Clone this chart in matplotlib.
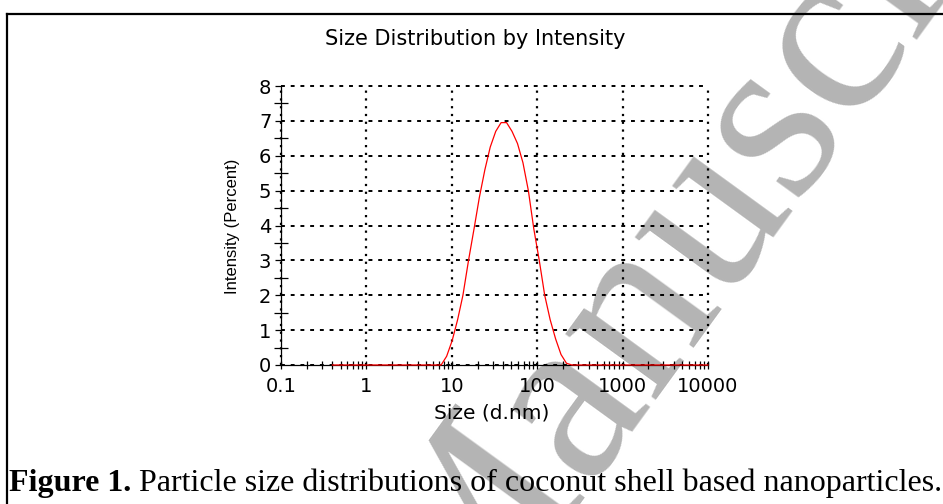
import matplotlib
matplotlib.use('Agg')
import matplotlib.pyplot as plt
from matplotlib.lines import Line2D
from matplotlib.ticker import LogLocator, FixedLocator, NullFormatter

# size distribution (d.nm vs % intensity)
size_nm = [0.4, 7.5, 8.7, 10.1, 11.7, 13.5, 15.7, 18.2, 21.0, 24.4, 28.2, 32.7,
           37.8, 43.8, 50.7, 58.8, 68.1, 78.8, 91.3, 105.7, 122.4, 141.8,
           164.2, 190.1, 220.2, 255.0, 10000]
intensity = [0.0, 0.0, 0.25, 0.7, 1.3, 2.0, 3.0, 3.9, 4.8, 5.6, 6.25, 6.7,
             6.95, 6.95, 6.7, 6.35, 5.8, 5.0, 3.9, 3.0, 2.0, 1.3,
             0.75, 0.3, 0.05, 0.0, 0.0]

x_ticks = [0.1, 1, 10, 100, 1000, 10000]
x_tick_labels = ['0.1', '1', '10', '100', '1000', '10000']
y_ticks = [0, 1, 2, 3, 4, 5, 6, 7, 8]

title = 'Size Distribution by Intensity'
x_label = 'Size (d.nm)'
y_label = 'Intensity (Percent)'
caption_bold = 'Figure 1.'
caption_rest = ' Particle size distributions of coconut shell based nanoparticles.'
watermark = 'Manuscript'

W, H = 943, 504
fig = plt.figure(figsize=(W / 100, H / 100), dpi=100)
fig.patch.set_facecolor('white')

# gray watermark behind everything
fig.text(460 / W, 1 - 660 / H, watermark, fontsize=175, family='Liberation Serif',
         color='#b4b4b4', rotation=54, rotation_mode='anchor',
         ha='left', va='baseline', zorder=-5)

# frame lines around the figure (top and left)
fig.add_artist(Line2D([7 / W, 1], [1 - 14 / H, 1 - 14 / H], color='black', lw=1.6,
                      transform=fig.transFigure))
fig.add_artist(Line2D([7 / W, 7 / W], [0, 1 - 14 / H], color='black', lw=1.6,
                      transform=fig.transFigure))

ax = fig.add_axes([281 / W, 1 - 365 / H, 427 / W, 279 / H])
ax.patch.set_alpha(0)
ax.set_zorder(2)

ax.plot(size_nm, intensity, color='red', lw=0.9, zorder=3, clip_on=False)

ax.set_xscale('log')
ax.set_xlim(0.1, 10000)
ax.set_ylim(0, 8)

ax.xaxis.set_major_locator(FixedLocator(x_ticks))
ax.set_xticklabels(x_tick_labels)
ax.xaxis.set_minor_locator(LogLocator(base=10, subs=range(2, 10)))
ax.xaxis.set_minor_formatter(NullFormatter())
ax.yaxis.set_major_locator(FixedLocator(y_ticks))
ax.yaxis.set_minor_locator(FixedLocator([v + 0.5 for v in y_ticks[:-1]]))

ax.tick_params(axis='x', which='both', direction='inout', length=6, width=0.9,
               pad=6, labelsize=14)
ax.tick_params(axis='y', which='major', direction='out', length=4, width=0.9,
               pad=3, labelsize=14)
ax.tick_params(axis='y', which='minor', direction='inout', length=10, width=0.9)

for lab in ax.get_xticklabels() + ax.get_yticklabels():
    lab.set_family('DejaVu Sans')

ax.spines['top'].set_visible(False)
ax.spines['right'].set_visible(False)
ax.spines['left'].set_linewidth(0.9)
ax.spines['bottom'].set_linewidth(0.9)

# grid: dotted verticals, dashed horizontals
ax.grid(True, axis='x', which='major', color='black', linestyle=(0, (1, 2.5)), lw=1.6)
ax.grid(True, axis='y', which='major', color='black', linestyle=(0, (2, 3)), lw=1.4)
for gl in ax.get_xgridlines() + ax.get_ygridlines():
    gl.set_clip_on(False)

fig.text(475 / W, 1 - 39 / H, title, fontsize=15, family='DejaVu Sans',
         ha='center', va='center')
fig.text(492 / W, 1 - 413 / H, x_label, fontsize=14.5, family='DejaVu Sans',
         ha='center', va='center')
fig.text(233 / W, 1 - 226 / H, y_label, fontsize=12, family='Liberation Sans',
         rotation=90, ha='center', va='center')

# caption: bold label followed by plain text
renderer = fig.canvas.get_renderer()
t1 = fig.text(9 / W, 1 - 491 / H, caption_bold, fontsize=23, family='Liberation Serif',
              weight='bold', ha='left', va='baseline')
bb = t1.get_window_extent(renderer)
fig.text(bb.x1 / W, 1 - 491 / H, caption_rest, fontsize=23, family='Liberation Serif',
         ha='left', va='baseline')

fig.savefig('out.png', dpi=100)
